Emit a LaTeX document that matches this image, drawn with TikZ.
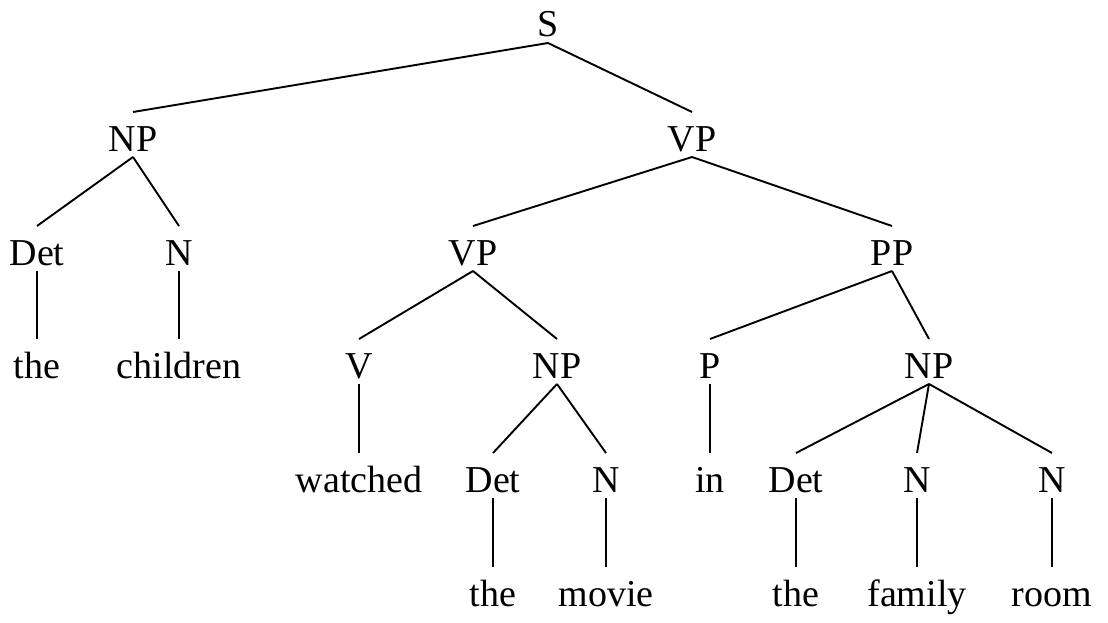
\documentclass[tikz,border=0pt]{standalone}
\usepackage{fontspec}
\setmainfont{Liberation Serif}
\begin{document}
\begin{tikzpicture}[x=1pt,y=-1pt,
  lbl/.style={anchor=base,inner sep=0pt,font=\fontsize{38}{40}\selectfont},
  edge/.style={line width=1.9pt}]
\useasboundingbox (0,0) rectangle (1108,623);
% row 0
\node[lbl] (S) at (548,37) {S};
% row 1
\node[lbl] (NPa) at (133,151) {NP};
\node[lbl] (VPa) at (692,151) {VP};
% row 2
\node[lbl] (Deta) at (37,265) {Det};
\node[lbl] (Na) at (179,265) {N};
\node[lbl] (VPb) at (473,265) {VP};
\node[lbl] (PP) at (892,265) {PP};
% row 3
\node[lbl] (thea) at (37,378) {the};
\node[lbl] (chil) at (179,378) {children};
\node[lbl] (V) at (359,378) {V};
\node[lbl] (NPb) at (557,378) {NP};
\node[lbl] (P) at (710,378) {P};
\node[lbl] (NPc) at (929,378) {NP};
% row 4
\node[lbl] (watched) at (359,492) {watched};
\node[lbl] (Detb) at (493,492) {Det};
\node[lbl] (Nb) at (606,492) {N};
\node[lbl] (in) at (710,492) {in};
\node[lbl] (Detc) at (796,492) {Det};
\node[lbl] (Nc) at (917,492) {N};
\node[lbl] (Nd) at (1052,492) {N};
% row 5
\node[lbl] (theb) at (493,606) {the};
\node[lbl] (movie) at (606,606) {movie};
\node[lbl] (thec) at (796,606) {the};
\node[lbl] (family) at (917,606) {family};
\node[lbl] (room) at (1052,606) {room};
% branches
\foreach \p/\c in {S/NPa,S/VPa,NPa/Deta,NPa/Na,Deta/thea,Na/chil,
  VPa/VPb,VPa/PP,VPb/V,VPb/NPb,V/watched,NPb/Detb,NPb/Nb,Detb/theb,Nb/movie,
  PP/P,PP/NPc,P/in,NPc/Detc,NPc/Nc,NPc/Nd,Detc/thec,Nc/family,Nd/room}
  \draw[edge] ([yshift=-6pt]\p.base) -- ([yshift=39pt]\c.base);
\end{tikzpicture}
\end{document}
